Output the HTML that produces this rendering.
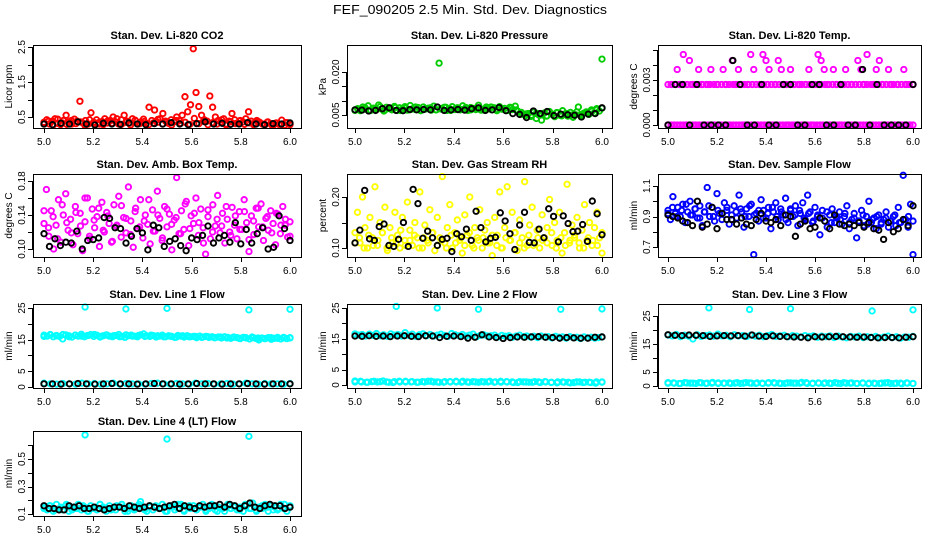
<!DOCTYPE html>
<html><head><meta charset="utf-8"><style>
html,body{margin:0;padding:0;background:#fff;}
svg text{font-family:"Liberation Sans",sans-serif;fill:#000;}
</style></head><body>
<svg id="chart" width="936" height="540" viewBox="0 0 936 540" xmlns="http://www.w3.org/2000/svg">
<rect width="936" height="540" fill="#fff"/>
<text x="470" y="14" text-anchor="middle" font-size="13" textLength="274" lengthAdjust="spacingAndGlyphs">FEF_090205  2.5 Min. Std. Dev. Diagnostics</text>
</svg>
<script>
// ---- data ----
const xTicks=[5.0,5.2,5.4,5.6,5.8,6.0];
const xTickLabels=["5.0","5.2","5.4","5.6","5.8","6.0"];
const co2Main=[0.35,0.42,0.3,0.38,0.45,0.32,0.28,0.4,0.55,0.36,0.3,0.44,0.38,0.95,0.33,0.4,0.3,0.62,0.35,0.42,0.3,0.37,0.45,0.33,0.4,0.5,0.36,0.3,0.42,0.55,0.38,0.33,0.45,0.4,0.3,0.36,0.44,0.32,0.78,0.4,0.7,0.35,0.45,0.6,0.38,0.32,0.42,0.36,0.5,0.4,0.55,1.08,0.65,0.85,2.45,1.2,0.8,0.55,0.42,0.38,1.1,0.78,0.5,0.4,0.35,0.45,0.3,0.38,0.6,0.42,0.33,0.4,0.36,0.45,0.65,0.38,0.32,0.4,0.35,0.3,0.28,0.36,0.31,0.27,0.33,0.29,0.41,0.26,0.34,0.3];
const co2Main2=[0.3,0.38,0.27,0.44,0.33,0.29,0.4,0.31,0.36,0.26,0.42,0.3,0.34,0.28,0.39,0.32,0.45,0.29,0.35,0.27,0.41,0.31,0.37,0.28,0.33,0.43,0.3,0.36,0.27,0.4,0.32,0.35,0.29,0.46,0.31,0.38,0.28,0.34,0.3,0.42,0.27,0.36,0.31,0.39,0.29,0.33,0.28,0.37,0.3,0.35,0.27,0.32,0.29,0.34,0.28];
const co2Black=[0.3,0.28,0.32,0.3,0.36,0.3,0.27,0.32,0.3,0.29,0.33,0.3,0.28,0.31,0.3,0.34,0.3,0.28,0.31,0.36,0.3,0.32,0.29,0.3,0.34,0.3,0.28,0.31,0.3,0.33];
const presMain=[0.0068,0.0072,0.0065,0.0078,0.007,0.0082,0.0066,0.0074,0.0069,0.0085,0.0071,0.0064,0.0077,0.0073,0.0068,0.008,0.0066,0.0075,0.007,0.0079,0.0067,0.0083,0.0072,0.0069,0.0076,0.0065,0.0078,0.0071,0.0074,0.0067,0.0081,0.0068,0.0231,0.0073,0.0077,0.0066,0.0072,0.0079,0.0069,0.0075,0.0068,0.0082,0.007,0.0066,0.0076,0.0073,0.0069,0.0084,0.0071,0.0067,0.0078,0.0072,0.0068,0.0075,0.0065,0.0079,0.007,0.0073,0.0066,0.0077,0.0069,0.0081,0.0063,0.0058,0.0052,0.0048,0.0055,0.0045,0.006,0.0038,0.005,0.0032,0.0057,0.0047,0.0062,0.0053,0.0044,0.0058,0.0049,0.0065,0.0054,0.0046,0.0059,0.0042,0.0051,0.0078,0.0048,0.0056,0.0061,0.0052,0.0068,0.0057,0.0072,0.0064,0.0245];
const presMain2=[0.0066,0.0071,0.0075,0.0067,0.0073,0.0079,0.0068,0.0072,0.0076,0.0066,0.0074,0.0069,0.0078,0.0067,0.0072,0.0075,0.0068,0.0071,0.0077,0.0066,0.0073,0.0069,0.0076,0.0068,0.0074,0.0067,0.0072,0.0078,0.0069,0.0073,0.0066,0.0075,0.0068,0.0059,0.0054,0.0049,0.0056,0.0051,0.0046,0.0053,0.0058,0.0047,0.0055,0.005,0.0061,0.0052,0.0057,0.0063,0.0069,0.0074];
const presBlack=[0.0068,0.0067,0.0064,0.0066,0.0072,0.0075,0.0066,0.0065,0.0069,0.0068,0.0069,0.0068,0.0078,0.0066,0.0068,0.0069,0.0067,0.0072,0.0075,0.0066,0.0068,0.0076,0.0065,0.0055,0.0052,0.0041,0.0064,0.0055,0.0062,0.0048,0.0053,0.0051,0.0049,0.0043,0.0053,0.0055,0.0075];
const tempMain=[0,0.0027,0,0.0037,0.0027,0.0047,0,0.0043,0.0027,0,0.0037,0.0027,0,0.0027,0.0037,0,0.0027,0,0.0037,0.0027,0,0.0043,0.0027,0.0037,0.0027,0,0.0027,0.0047,0.0037,0,0.0027,0.0047,0.0043,0.0037,0,0.0027,0.0043,0.0037,0.0027,0,0.0037,0.0027,0,0.0027,0,0.0027,0.0037,0,0.0027,0.0047,0.0043,0.0037,0.0027,0,0.0037,0.0027,0,0.0027,0.0037,0,0.0027,0,0.0043,0.0037,0.0027,0.0047,0,0.0027,0.0037,0.0043,0.0027,0,0.0037,0.0027,0,0.0027,0,0.0037,0.0027,0,0.0027];
const tempZero=[0,0,0,0,0,0,0,0,0,0,0,0,0,0,0,0,0,0,0,0,0,0,0,0,0,0,0,0,0,0,0,0,0,0,0,0,0,0,0,0,0,0,0,0,0,0,0,0,0,0,0,0,0,0,0,0,0,0,0,0,0,0,0,0,0,0,0,0,0,0,0,0,0,0,0,0,0,0,0,0];
const tempMid=[0.0027,0.0027,0.0027,0.0027,0.0027,0.0027,0.0027,0.0027,0.0027,0.0027,0.0027,0.0027,0.0027,0.0027,0.0027,0.0027,0.0027,0.0027,0.0027,0.0027,0.0027,0.0027,0.0027,0.0027,0.0027,0.0027,0.0027,0.0027,0.0027,0.0027,0.0027,0.0027,0.0027,0.0027,0.0027,0.0027,0.0027,0.0027,0.0027,0.0027,0.0027,0.0027,0.0027,0.0027,0.0027,0.0027,0.0027,0.0027,0.0027,0.0027,0.0027,0.0027,0.0027,0.0027,0.0027,0.0027,0.0027,0.0027,0.0027,0.0027,0.0027,0.0027,0.0027,0.0027,0.0027];
const tempBlack=[0,0.0027,0.0027,0,0.0027,0,0,0,0,0.0043,0.0027,0,0,0.0027,0,0,0.0027,0.0027,0,0,0.0027,0.0027,0,0,0.0027,0,0,0.0037,0,0.0027,0,0,0,0,0.0027];
const ambMain=[0.13,0.17,0.115,0.145,0.1,0.128,0.158,0.108,0.14,0.165,0.122,0.135,0.105,0.15,0.118,0.142,0.098,0.132,0.16,0.112,0.147,0.125,0.138,0.103,0.155,0.12,0.143,0.13,0.108,0.152,0.127,0.162,0.114,0.137,0.119,0.173,0.133,0.102,0.148,0.124,0.158,0.113,0.14,0.129,0.106,0.146,0.121,0.168,0.136,0.11,0.15,0.126,0.141,0.099,0.134,0.184,0.118,0.145,0.123,0.156,0.104,0.139,0.13,0.16,0.116,0.147,0.125,0.094,0.138,0.112,0.152,0.127,0.163,0.119,0.142,0.107,0.135,0.12,0.149,0.128,0.112,0.144,0.123,0.158,0.131,0.097,0.139,0.117,0.148,0.126,0.153,0.11,0.136,0.122,0.145,0.13,0.105,0.141,0.118,0.15,0.128,0.114,0.132];
const ambMain2=[0.145,0.125,0.138,0.112,0.152,0.131,0.119,0.143,0.127,0.16,0.115,0.134,0.148,0.122,0.139,0.109,0.128,0.151,0.136,0.117,0.144,0.126,0.133,0.158,0.121,0.14,0.113,0.147,0.129,0.137,0.118,0.153,0.124,0.142,0.131,0.107,0.146,0.12,0.135,0.127,0.15,0.116,0.139,0.123,0.144,0.111,0.133,0.148,0.126,0.138,0.119,0.142,0.128,0.135,0.115];
const ambBlack=[0.118,0.103,0.112,0.104,0.108,0.107,0.121,0.1,0.11,0.111,0.113,0.137,0.136,0.125,0.124,0.107,0.115,0.124,0.119,0.099,0.128,0.125,0.103,0.109,0.112,0.104,0.098,0.113,0.111,0.116,0.127,0.107,0.113,0.116,0.108,0.131,0.106,0.123,0.107,0.118,0.125,0.1,0.102,0.139,0.124,0.11];
const rhMain=[0.13,0.17,0.11,0.2,0.14,0.1,0.16,0.12,0.22,0.105,0.15,0.13,0.18,0.095,0.14,0.11,0.17,0.125,0.1,0.16,0.115,0.19,0.135,0.105,0.15,0.12,0.21,0.1,0.145,0.115,0.175,0.13,0.095,0.16,0.12,0.24,0.11,0.14,0.185,0.1,0.13,0.155,0.115,0.09,0.165,0.125,0.2,0.105,0.14,0.12,0.175,0.1,0.135,0.15,0.11,0.085,0.16,0.125,0.21,0.1,0.14,0.22,0.115,0.17,0.13,0.095,0.155,0.12,0.23,0.105,0.145,0.18,0.11,0.135,0.1,0.165,0.12,0.14,0.195,0.105,0.15,0.115,0.17,0.09,0.13,0.225,0.11,0.145,0.12,0.16,0.1,0.135,0.185,0.115,0.15,0.105,0.14,0.17,0.12,0.09];
const rhMain2=[0.11,0.12,0.1,0.125,0.105,0.115,0.13,0.1,0.12,0.11,0.135,0.105,0.115,0.125,0.1,0.12,0.11,0.13,0.105,0.115,0.1,0.125,0.11,0.12,0.105,0.13,0.1,0.115,0.12,0.11,0.125,0.105,0.1,0.12,0.115,0.13,0.11,0.1,0.125,0.105,0.12,0.115,0.11,0.13,0.1,0.12,0.105,0.115,0.125,0.11,0.1,0.12,0.115,0.105,0.13];
const rhBlack=[0.11,0.135,0.213,0.118,0.115,0.142,0.147,0.105,0.103,0.117,0.15,0.103,0.215,0.187,0.119,0.133,0.12,0.105,0.117,0.119,0.093,0.128,0.122,0.137,0.115,0.172,0.14,0.112,0.119,0.121,0.169,0.153,0.128,0.097,0.145,0.17,0.111,0.11,0.137,0.12,0.177,0.162,0.112,0.163,0.148,0.132,0.133,0.146,0.113,0.192,0.167,0.126];
const flowMain=[0.94,0.88,1.03,0.92,0.96,0.9,0.98,0.86,0.93,1.0,0.91,0.95,0.89,0.97,0.84,0.93,1.09,0.9,0.96,0.87,1.05,0.92,0.88,0.99,0.94,0.85,0.91,0.97,0.89,1.04,0.93,0.83,0.95,0.9,0.98,0.65,0.92,0.87,1.01,0.94,0.89,0.96,0.82,0.93,0.99,0.88,0.95,0.91,1.02,0.86,0.94,0.9,0.97,0.84,0.92,0.99,0.88,1.04,0.93,0.86,0.96,0.9,0.78,0.94,0.87,0.83,0.91,0.95,0.86,0.89,0.93,0.85,0.9,0.97,0.82,0.88,0.92,0.76,0.87,0.94,0.84,0.9,1.0,0.86,0.89,0.82,0.91,0.85,0.88,0.93,0.83,0.87,0.9,0.84,0.96,0.86,1.17,0.88,0.83,0.98,0.65];
const flowMain2=[0.92,0.96,0.9,0.94,0.98,0.91,0.95,0.89,0.93,0.97,0.9,0.94,0.92,0.96,0.88,0.93,0.95,0.9,0.97,0.91,0.94,0.89,0.92,0.96,0.9,0.93,0.88,0.95,0.91,0.94,0.89,0.92,0.87,0.91,0.89,0.93,0.86,0.9,0.88,0.92,0.86,0.89,0.87,0.91,0.85,0.88,0.9,0.86,0.89,0.87,0.91,0.86,0.88,0.9,0.87];
const flowBlack=[0.91,0.9,0.89,0.87,0.86,0.84,1.0,0.83,0.85,0.96,0.82,0.92,0.88,0.88,0.85,0.89,0.85,0.84,0.88,0.92,0.87,0.86,0.88,0.84,0.91,0.9,0.77,0.85,0.87,0.82,0.83,0.89,0.87,0.82,0.91,0.85,0.84,0.85,0.84,0.86,0.83,0.86,0.82,0.81,0.75,0.86,0.8,0.82,0.88,0.84,0.97];
const l1Upper=[16.4,16.1,16.6,15.9,16.3,16.0,15.2,16.5,16.2,15.8,16.4,16.1,16.7,15.9,16.3,16.6,16.0,16.4,15.8,16.2,16.5,16.1,15.9,16.3,16.6,16.0,15.7,16.2,16.4,16.1,15.9,16.5,16.8,16.2,16.0,16.3,15.8,16.1,16.4,15.9,16.2,16.0,15.7,16.3,16.1,15.8,16.2,15.9,16.0,15.6,16.1,15.8,16.0,15.7,15.9,15.6,15.8,15.5,15.9,15.7,15.4,15.8,15.6,15.3,15.7,15.5,15.2,15.6,15.4,14.9,15.5,15.3,15.6,15.1,15.4,15.7,15.2,15.5,15.3,15.6];
const l1Upper2=[16.0,16.5,16.2,16.6,15.9,16.4,16.1,16.3,16.6,16.0,16.4,16.2,15.9,16.5,16.1,16.3,16.0,16.4,16.2,15.9,16.1,15.8,16.2,15.9,16.0,15.7,15.9,15.6,15.8,15.5,15.7,15.4,15.6,15.8,15.5,15.3,15.6,15.4,15.7,15.5];
const l1Lower=[1.2,1.0,0.9,1.1,1.0,0.9,1.2,1.0,1.1,0.9,1.0,1.2,0.9,1.1,1.0,1.0,0.9,1.1,1.2,1.0,0.9,1.1,1.0,0.9,1.2,1.0,1.1,0.9,1.0,1.1,0.9,1.0,1.2,1.0,0.9,1.1,1.0,1.0,0.9,1.1];
const l1Out=[25.3,24.7,24.9,24.4,24.6];
const l1OutX=[5.167,5.333,5.5,5.833,6.0];
const l1Black=[1.0,1.0,0.9,1.0,1.1,1.0,0.9,1.0,1.1,1.0,1.0,0.9,1.0,1.1,1.0,1.0,0.9,1.0,1.1,1.0,1.0,0.9,1.0,1.0,1.1,1.0,0.9,1.0,1.0,1.0];
const l2Upper=[16.6,16.2,16.4,15.9,16.5,16.1,16.7,16.0,16.3,15.8,16.6,16.2,16.4,15.9,17.0,16.1,16.5,15.8,16.3,16.6,16.0,16.4,15.9,16.2,16.5,16.1,15.8,16.7,16.3,16.0,16.4,15.9,16.2,16.5,15.7,16.1,16.3,15.9,16.0,16.2,15.6,16.1,15.8,16.0,15.5,15.9,16.2,15.7,15.9,15.6,15.8,15.4,15.9,15.6,15.7,15.3,15.8,15.5,15.6,15.2,15.7,15.4,15.5,15.1,15.6,15.3,15.5,15.2,15.4,15.6];
const l2Lower=[1.3,1.0,0.9,1.2,1.1,1.0,0.8,1.2,1.0,1.1,0.9,1.0,1.2,1.0,0.9,1.1,1.0,1.2,0.9,1.0,1.1,1.0,0.9,1.2,1.0,0.8,1.1,1.0,0.9,1.0,1.1,0.8,1.0,0.9,0.7,1.0,0.8,0.9,0.6,1.0];
const l2Lower2=[1.0,1.2,0.9,1.1,1.0,1.3,0.9,1.1,1.0,1.2,1.0,0.9,1.1,1.2,1.0,0.9,1.1,1.0,1.2,0.9,1.0,1.1,0.9,1.0,1.2,1.0,0.9,1.1,1.0,0.8,1.0,0.9,1.1,0.8,1.0,0.9,0.7,1.0,0.9,0.8,1.0,0.9,0.8,1.0,0.9];
const l2Out=[25.5,25.0,24.6,24.6,24.7];
const l2OutX=[5.167,5.333,5.5,5.833,6.0];
const l2Black=[15.9,15.8,16.0,15.8,15.9,15.7,15.9,16.0,15.8,15.7,16.0,15.9,15.4,15.8,15.9,15.7,15.2,15.5,16.3,15.6,15.4,15.1,15.4,15.6,15.5,15.6,15.7,15.5,15.4,15.2,15.4,15.3,15.2,15.2,15.5,15.6];
const l3Upper=[18.2,17.9,18.4,17.6,18.1,17.8,16.8,18.3,17.7,18.0,18.2,17.8,18.5,17.9,18.1,17.6,18.3,17.9,18.0,17.7,18.2,17.8,18.1,17.6,18.0,18.4,17.7,17.9,18.1,17.6,18.0,17.8,17.5,18.0,17.7,17.9,17.4,17.8,17.6,17.9,17.3,17.8,17.5,17.2,17.7,17.5,17.8,17.3,17.6,17.4,17.7,17.2,17.5,17.8,17.3,17.6,17.1,17.5,17.4,17.7];
const l3Lower=[1.2,1.0,0.9,1.1,1.0,1.2,0.9,1.0,1.1,1.0,0.9,1.2,1.0,1.1,0.9,1.0,1.2,1.0,0.9,1.1,1.0,1.0,1.2,0.9,1.0,1.1,0.9,1.0,1.2,1.0,0.9,1.1,1.0,0.9,1.0,1.2,0.9,1.0,1.1,0.9];
const l3Lower2=[1.0,1.1,0.9,1.2,1.0,0.9,1.1,1.0,1.3,0.9,1.0,1.1,1.0,0.9,1.2,1.0,1.1,0.9,1.0,1.2,1.0,0.9,1.1,1.0,1.3,0.9,1.0,1.1,0.9,1.0,1.2,0.9,1.0,1.1,0.9,1.0,0.8,1.0,0.9,1.1,0.9,1.0,0.8,1.0,0.9];
const l3Out=[27.9,27.3,27.6,26.8,27.2];
const l3OutX=[5.167,5.333,5.5,5.833,6.0];
const l3Black=[18.3,18.1,18.0,18.2,18.1,18.0,17.7,17.9,18.0,17.9,18.0,17.8,18.2,17.8,17.7,17.9,17.7,17.6,17.5,17.4,17.2,17.6,17.5,17.6,17.7,17.6,17.5,17.4,17.5,17.3,17.2,17.3,17.3,17.2,17.4,17.6];
const l4Main=[0.15,0.13,0.16,0.12,0.17,0.14,0.13,0.16,0.12,0.15,0.14,0.17,0.13,0.15,0.12,0.16,0.14,0.13,0.17,0.15,0.12,0.16,0.14,0.13,0.15,0.17,0.12,0.14,0.16,0.13,0.15,0.19,0.14,0.12,0.16,0.13,0.15,0.14,0.17,0.12,0.15,0.16,0.13,0.14,0.17,0.12,0.15,0.14,0.16,0.13,0.15,0.17,0.12,0.14,0.16,0.13,0.15,0.14,0.12,0.17,0.14,0.16,0.13,0.15,0.12,0.16,0.14,0.18,0.13,0.15,0.14,0.17,0.12,0.16,0.15,0.13,0.17,0.14,0.12,0.16];
const l4Main2=[0.14,0.16,0.13,0.15,0.17,0.13,0.14,0.16,0.12,0.15,0.17,0.14,0.13,0.16,0.15,0.12,0.14,0.17,0.13,0.15,0.16,0.14,0.12,0.15,0.17,0.13,0.16,0.14,0.15,0.13,0.17,0.12,0.14,0.16,0.15,0.13,0.17,0.14,0.12,0.16,0.15,0.13,0.14,0.17,0.15];
const l4Out=[0.675,0.645,0.665];
const l4OutX=[5.167,5.5,5.833];
const l4Black=[0.16,0.14,0.14,0.13,0.13,0.16,0.15,0.16,0.14,0.14,0.15,0.14,0.13,0.14,0.15,0.15,0.14,0.16,0.15,0.14,0.15,0.16,0.15,0.14,0.15,0.16,0.17,0.14,0.16,0.15,0.14,0.16,0.15,0.16,0.16,0.17,0.15,0.17,0.16,0.14,0.16,0.18,0.15,0.14,0.16,0.17,0.16,0.16,0.14,0.15];
// ---- layout ----
const NS="http://www.w3.org/2000/svg";
const svg=document.getElementById('chart');
const colL=[33,347,658],colR=[301,612,921],colX5=[44,355,668],colX6=[290,602,913];
const rowT=[45,174,304,431],rowB=[128,257,388,516];
function mk(tag,at,parent){const e=document.createElementNS(NS,tag);for(const k in at)e.setAttribute(k,at[k]);(parent||svg).appendChild(e);return e;}
const panels=[
 {c:0,r:0,title:"Stan. Dev. Li-820 CO2",ylab:"Licor ppm",cal:[0.5,117,2.5,47],ticks:[0.5,1,1.5,2,2.5],labels:{"0.5":"0.5","1.5":"1.5","2.5":"2.5"},series:[[co2Main,"#ff0000"],[co2Main2,"#ff0000"],[co2Black,"#000"]]},
 {c:1,r:0,title:"Stan. Dev. Li-820 Pressure",ylab:"kPa",cal:[0.005,115,0.02,72],ticks:[0.005,0.01,0.015,0.02],labels:{"0.005":"0.005","0.02":"0.020"},series:[[presMain,"#00cc00"],[presMain2,"#00cc00"],[presBlack,"#000"]]},
 {c:2,r:0,title:"Stan. Dev. Li-820 Temp.",ylab:"degrees C",cal:[0,125,0.003,80],ticks:[0,0.001,0.002,0.003,0.004,0.005],labels:{"0":"0.000","0.003":"0.003"},series:[[tempZero,"#ff00ff"],[tempMid,"#ff00ff"],[tempMain,"#ff00ff"],[tempBlack,"#000"]]},
 {c:0,r:1,title:"Stan. Dev. Amb. Box Temp.",ylab:"degrees C",cal:[0.1,249,0.18,181],ticks:[0.1,0.12,0.14,0.16,0.18],labels:{"0.1":"0.10","0.14":"0.14","0.18":"0.18"},series:[[ambMain,"#ff00ff"],[ambMain2,"#ff00ff"],[ambBlack,"#000"]]},
 {c:1,r:1,title:"Stan. Dev. Gas Stream RH",ylab:"percent",cal:[0.1,248,0.2,197],ticks:[0.1,0.15,0.2],labels:{"0.1":"0.10","0.2":"0.20"},series:[[rhMain,"#ffff00"],[rhMain2,"#ffff00"],[rhBlack,"#000"]]},
 {c:2,r:1,title:"Stan. Dev. Sample Flow",ylab:"ml/min",cal:[0.7,247,1.1,186],ticks:[0.7,0.8,0.9,1.0,1.1],labels:{"0.7":"0.7","0.9":"0.9","1.1":"1.1"},series:[[flowMain,"#0000ff"],[flowMain2,"#0000ff"],[flowBlack,"#000"]]},
 {c:0,r:2,title:"Stan. Dev. Line 1 Flow",ylab:"ml/min",cal:[0,387,25,308],ticks:[0,5,10,15,20,25],labels:{"0":"0","5":"5","15":"15","25":"25"},series:[[l1Upper,"#00ffff"],[l1Upper2,"#00ffff"],[l1Lower,"#00ffff"],[l1Black,"#000"]],out:[l1OutX,l1Out]},
 {c:1,r:2,title:"Stan. Dev. Line 2 Flow",ylab:"ml/min",cal:[0,385,25,308],ticks:[0,5,10,15,20,25],labels:{"0":"0","5":"5","15":"15","25":"25"},series:[[l2Upper,"#00ffff"],[l2Lower,"#00ffff"],[l2Lower2,"#00ffff"],[l2Black,"#000"]],out:[l2OutX,l2Out]},
 {c:2,r:2,title:"Stan. Dev. Line 3 Flow",ylab:"ml/min",cal:[0,386,25,316],ticks:[0,5,10,15,20,25],labels:{"0":"0","5":"5","15":"15","25":"25"},series:[[l3Upper,"#00ffff"],[l3Lower,"#00ffff"],[l3Lower2,"#00ffff"],[l3Black,"#000"]],out:[l3OutX,l3Out]},
 {c:0,r:3,title:"Stan. Dev. Line 4 (LT) Flow",ylab:"ml/min",cal:[0.1,514,0.5,459],ticks:[0.1,0.2,0.3,0.4,0.5,0.6],labels:{"0.1":"0.1","0.3":"0.3","0.5":"0.5"},series:[[l4Main,"#00ffff"],[l4Main2,"#00ffff"],[l4Black,"#000"]],out:[l4OutX,l4Out]}
];
panels.forEach((p,pi)=>{
 const L=colL[p.c],R=colR[p.c],T=rowT[p.r],B=rowB[p.r];
 const xs=v=>colX5[p.c]+(v-5)*(colX6[p.c]-colX5[p.c]);
 const ys=v=>p.cal[1]+(v-p.cal[0])*(p.cal[3]-p.cal[1])/(p.cal[2]-p.cal[0]);
 const g=mk('g',{});
 
 
 const t=mk('text',{x:(L+R)/2,y:T-6,'text-anchor':'middle','font-size':'11','font-weight':'bold'},g);
 t.textContent=p.title;
 
 
 const yl=mk('text',{x:0,y:0,'text-anchor':'middle','font-size':'10',transform:`translate(${L-21},${(T+B)/2}) rotate(-90)`},g);
 yl.textContent=p.ylab;
 
 
 const ax=mk('g',{stroke:'#000','stroke-width':'1'},g);
 
 
 mk('line',{x1:xs(5),x2:xs(6),y1:B+0.5,y2:B+0.5},ax);
 xTicks.forEach((v,i)=>{
  mk('line',{x1:Math.round(xs(v))+0.5,x2:Math.round(xs(v))+0.5,y1:B,y2:B+5},ax);
  const tl=mk('text',{x:xs(v),y:B+17,'text-anchor':'middle','font-size':'10',stroke:'none'},g);
  tl.textContent=xTickLabels[i];
  
  
 });
 const ay=mk('g',{stroke:'#000','stroke-width':'1'},g);
 
 
 mk('line',{x1:L-0.5,x2:L-0.5,y1:ys(p.ticks[0]),y2:ys(p.ticks[p.ticks.length-1])},ay);
 p.ticks.forEach(v=>{
  const y=Math.round(ys(v))+0.5;
  mk('line',{x1:L-5,x2:L,y1:y,y2:y},ay);
  const key=String(v);
  if(p.labels[key]!==undefined){
   const tl=mk('text',{x:0,y:0,'text-anchor':'middle','font-size':'10',transform:`translate(${L-8},${ys(v)}) rotate(-90)`},g);
   tl.textContent=p.labels[key];
   
   
  }
 });
 const pts=mk('g',{fill:'none','stroke-width':'1.9'},g);
 
 
 p.series.forEach(([arr,col])=>{
  const n=arr.length;
  arr.forEach((v,i)=>{
   const c=mk('circle',{cx:xs(5+i/(n-1)),cy:ys(v),r:2.7,stroke:col},pts);
   
   
  });
 });
 if(p.out){
  p.out[1].forEach((v,i)=>{
   const c=mk('circle',{cx:xs(p.out[0][i]),cy:ys(v),r:2.7,stroke:'#00ffff'},pts);
   
   
  });
 }
 const box=mk('rect',{x:L+0.5,y:T+0.5,width:R-L,height:B-T,fill:'none',stroke:'#000','stroke-width':'1'},g);
 
 
});
</script>
</body></html>
